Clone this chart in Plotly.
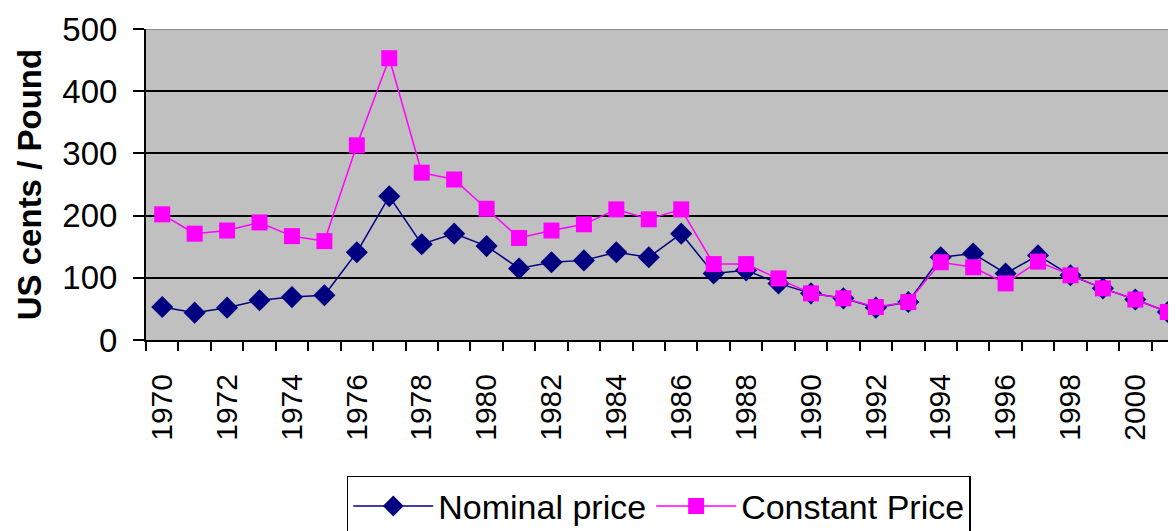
import plotly.graph_objects as go

years = list(range(1970, 2002))
nominal = [53, 44, 52, 64, 69, 72, 141, 231, 154, 171, 151, 115, 125, 128, 141, 133, 171,
           107, 112, 91, 75, 67, 52, 61, 133, 139, 107, 136, 104, 83, 65, 45]
constant = [202, 171, 176, 189, 167, 159, 313, 453, 269, 258, 211, 164, 176, 186, 210, 194, 210,
            122, 122, 99, 75, 67, 53, 61, 125, 117, 91, 126, 104, 83, 65, 45]
tick_years = list(range(1970, 2001, 2))
y_ticks = [0, 100, 200, 300, 400, 500]
y_title = "US cents / Pound"

fig = go.Figure()
fig.add_trace(go.Scatter(
    x=years, y=nominal, name="Nominal price", mode="lines+markers",
    line=dict(color="#000080", width=1.5),
    marker=dict(symbol="diamond", size=17, color="#000080")))
fig.add_trace(go.Scatter(
    x=years, y=constant, name="Constant Price", mode="lines+markers",
    line=dict(color="#ff00ff", width=1.5),
    marker=dict(symbol="square", size=16, color="#ff00ff")))

fig.add_shape(type="line", xref="paper", x0=0, x1=1, yref="y", y0=500, y1=500,
              line=dict(color="#8a8a8a", width=2), layer="below")

fig.add_annotation(text="<b>" + y_title + "</b>", textangle=-90, xref="paper", yref="paper",
                   x=-0.112, y=0.5, xanchor="center", yanchor="middle", showarrow=False,
                   font=dict(size=33, color="black"))

fig.update_layout(
    width=1176, height=531,
    margin=dict(l=138, r=0, t=21, b=199),
    paper_bgcolor="white", plot_bgcolor="#c0c0c0",
    font=dict(family="Liberation Sans, Arial, sans-serif", color="black"),
    showlegend=True,
    legend=dict(orientation="h", x=0.494, xanchor="center", y=-0.437, yanchor="top",
                bordercolor="black", borderwidth=1.5, font=dict(size=34),
                itemwidth=80, bgcolor="white"),
)
fig.update_xaxes(
    range=[1969.5, 2001.5], tickvals=tick_years, ticktext=[str(y) for y in tick_years],
    tickangle=-90, tickfont=dict(size=30), ticks="outside", ticklen=12,
    tickcolor="rgba(0,0,0,0)", showgrid=False, zeroline=False,
    showline=True, linecolor="black", linewidth=2,
    minor=dict(ticks="outside", ticklen=9, tickcolor="black", tickwidth=1.5,
               tick0=1969.5, dtick=1, showgrid=False),
    ticklabelstandoff=8,
)
fig.update_yaxes(
    range=[0, 500], tickvals=y_ticks, tickfont=dict(size=33),
    ticks="outside", ticklen=11, tickcolor="black", tickwidth=1.5,
    showgrid=True, gridcolor="black", gridwidth=2, zeroline=False,
    showline=True, linecolor="black", linewidth=2,
    ticklabelstandoff=9,
)

fig.write_html("out.html")
